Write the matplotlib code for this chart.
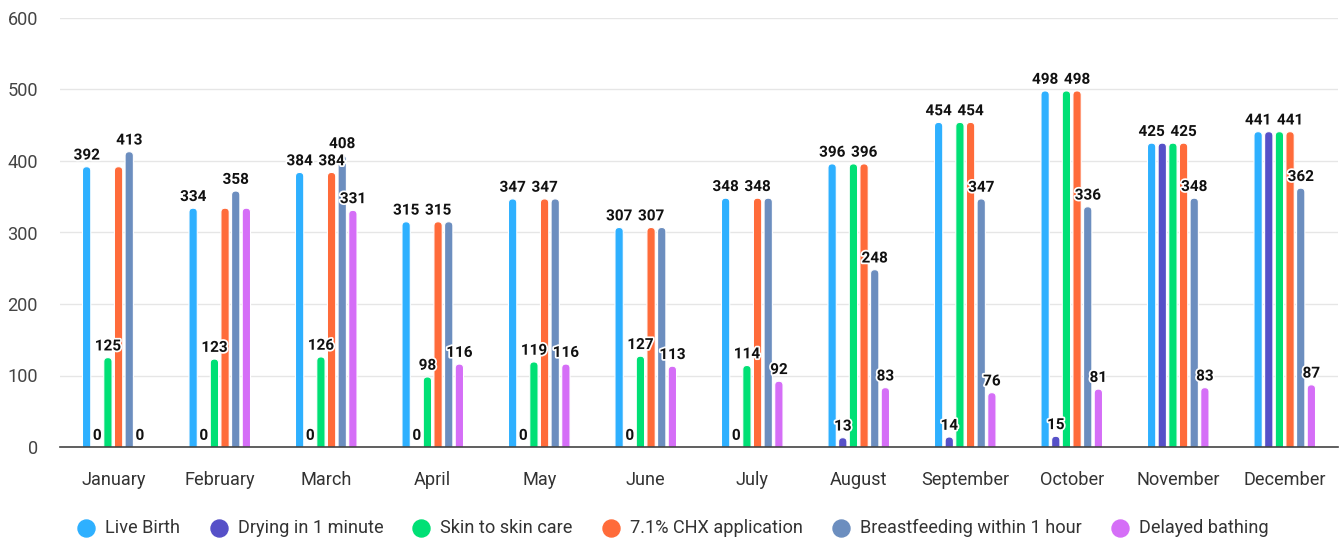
import matplotlib.pyplot as plt
import matplotlib.patheffects as pe
import numpy
from matplotlib.patches import FancyBboxPatch

plt.rcParams['font.family'] = ['Roboto', 'DejaVu Sans']

MONTHS = ['January', 'February', 'March', 'April', 'May', 'June', 'July',
          'August', 'September', 'October', 'November', 'December']

SERIES = ['Live Birth', 'Drying in 1 minute', 'Skin to skin care',
          '7.1% CHX application', 'Breastfeeding within 1 hour', 'Delayed bathing']

live_birth = [392, 334, 384, 315, 347, 307, 348, 396, 454, 498, 425, 441]
drying = [0, 0, 0, 0, 0, 0, 0, 13, 14, 15, 425, 441]
skin_to_skin = [125, 123, 126, 98, 119, 127, 114, 396, 454, 498, 425, 441]
chx = [392, 334, 384, 315, 347, 307, 348, 396, 454, 498, 425, 441]
breastfeeding = [413, 358, 408, 315, 347, 307, 348, 248, 347, 336, 348, 362]
delayed_bathing = [0, 334, 331, 116, 116, 113, 92, 83, 76, 81, 83, 87]

# labels the original chart drops because they collide: (month index, series index)
HIDDEN_LABELS = {(0, 3), (1, 3), (1, 5), (3, 4), (4, 4), (5, 4), (6, 4),
                 (7, 2), (8, 2), (9, 2), (10, 1), (10, 2), (11, 1), (11, 2)}

COLORS = ['#2eb0ff', '#5650c8', '#00e075', '#ff6b3a', '#6c8ebf', '#d56ef7']

values = [live_birth, drying, skin_to_skin, chx, breastfeeding, delayed_bathing]

fig = plt.figure(figsize=(13.43, 5.41), dpi=100)
ax = fig.add_axes([60 / 1343, 1 - 447 / 541, 1278 / 1343, 429 / 541])

x = numpy.arange(len(MONTHS))
step = 0.1
width = 0.078
n = len(SERIES)

# pixel -> data scale factors for the rounded bar tops
px_x = 12 / 1278
px_y = 600 / 429
radius_px = 4.0

for s, (name, vals, color) in enumerate(zip(SERIES, values, COLORS)):
    offs = (s - (n - 1) / 2) * step
    for m, v in enumerate(vals):
        xc = x[m] + offs
        if v > 0:
            patch = FancyBboxPatch((xc - width / 2, -20), width, v + 20,
                                   boxstyle='round,pad=0,rounding_size=%f' % (radius_px * px_x),
                                   mutation_aspect=px_y / px_x,
                                   facecolor=color, edgecolor='white', linewidth=0.8, zorder=3)
            ax.add_patch(patch)
        if (m, s) not in HIDDEN_LABELS:
            t = ax.annotate(str(v), (xc, v), xytext=(0, 3), textcoords='offset points',
                            ha='center', va='bottom', fontsize=11, fontweight='bold',
                            color='#111111', zorder=5)
            t.set_path_effects([pe.withStroke(linewidth=2.5, foreground='white')])
    ax.scatter([], [], s=150, color=color, label=name)

ax.set_xlim(-0.5, 11.5)
ax.set_ylim(0, 600)
ax.set_yticks(numpy.arange(0, 601, 100))
ax.set_xticks(x)
ax.set_xticklabels(MONTHS)
ax.tick_params(axis='x', length=0, pad=17.5, labelsize=13.1, labelcolor='#333333')
ax.tick_params(axis='y', length=0, pad=16, labelsize=13.1, labelcolor='#444444')
ax.grid(axis='y', color='#e6e6e6', linewidth=1, zorder=0)
ax.set_axisbelow(True)
for side in ['left', 'right', 'top']:
    ax.spines[side].set_visible(False)
ax.spines['bottom'].set_color('#444444')
ax.spines['bottom'].set_linewidth(1.2)
ax.spines['bottom'].set_zorder(4)

fig.legend(loc='center left', bbox_to_anchor=(61 / 1343, 1 - 528 / 541), ncol=6,
           frameon=False, fontsize=13.1, handletextpad=0.54, columnspacing=1.6,
           handlelength=1.0, labelcolor='#333333')

plt.savefig('out.png', dpi=100, facecolor='w')
